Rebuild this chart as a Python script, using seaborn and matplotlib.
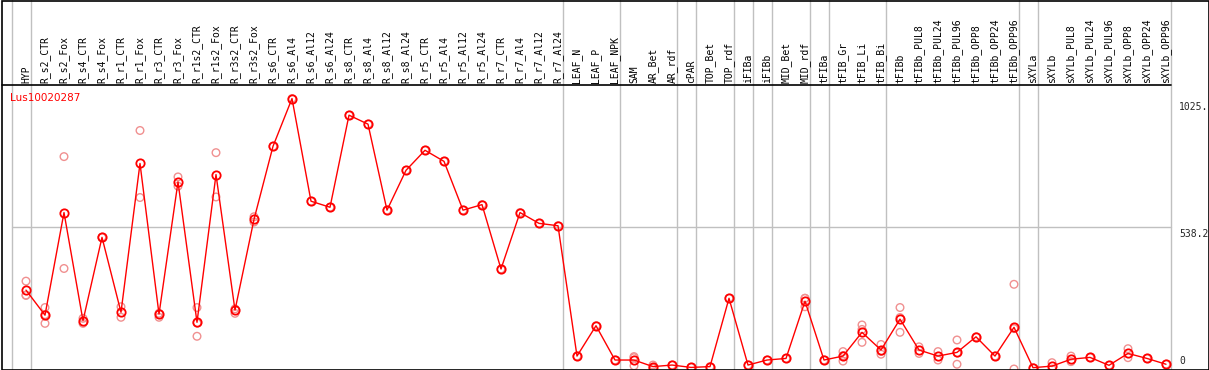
import matplotlib
matplotlib.use("Agg")
import matplotlib.pyplot as plt
import matplotlib.transforms as mtransforms
from matplotlib.patches import Rectangle
import pandas as pd
import seaborn as sns

# Sample names (column headers), left to right.
samples = [
    "HYP", "R_s2_CTR", "R_s2_Fox", "R_s4_CTR", "R_s4_Fox", "R_r1_CTR", "R_r1_Fox",
    "R_r3_CTR", "R_r3_Fox", "R_r1s2_CTR", "R_r1s2_Fox", "R_r3s2_CTR", "R_r3s2_Fox",
    "R_s6_CTR", "R_s6_Al4", "R_s6_Al12", "R_s6_Al24", "R_s8_CTR", "R_s8_Al4",
    "R_s8_Al12", "R_s8_Al24", "R_r5_CTR", "R_r5_Al4", "R_r5_Al12", "R_r5_Al24",
    "R_r7_CTR", "R_r7_Al4", "R_r7_Al12", "R_r7_Al24", "LEAF_N", "LEAF_P", "LEAF_NPK",
    "SAM", "AR_Bet", "AR_rdf", "cPAR", "TOP_Bet", "TOP_rdf", "iFIBa", "iFIBb",
    "MID_Bet", "MID_rdf", "tFIBa", "tFIB_Gr", "tFIB_Li", "tFIB_Bi", "tFIBb",
    "tFIBb_PUL8", "tFIBb_PUL24", "tFIBb_PUL96", "tFIBb_OPP8", "tFIBb_OPP24",
    "tFIBb_OPP96", "sXYLa", "sXYLb", "sXYLb_PUL8", "sXYLb_PUL24", "sXYLb_PUL96",
    "sXYLb_OPP8", "sXYLb_OPP24", "sXYLb_OPP96",
]

# Mean expression per sample.
means = [
    299, 204, 593, 183, 499, 215, 779, 208, 709, 177, 737, 223, 567,
    844, 1025, 636, 613, 962, 928, 602, 753, 829, 787, 602, 623,
    379, 593, 552, 543, 49, 164, 34,
    34, 9, 15, 6, 9, 268, 15, 34, 40, 257, 34, 49, 139, 72, 189,
    72, 49, 63, 122, 49, 158, 5, 11, 37, 44, 14, 59, 40, 18,
]

# Replicate values per sample.
replicates = [
    [333, 280, 279], [233, 173, 206], [805, 381], [192, 173], [499, 499],
    [236, 196], [904, 650], [211, 196], [728, 693], [233, 174, 124],
    [820, 652], [228, 211], [577, 557], [844], [1025], [636], [613], [962],
    [928], [602], [753], [829], [787], [602], [623], [379], [593], [552], [543],
    [49], [164], [34], [47, 43, 12], [15, 3], [15], [6], [9], [268], [15], [34],
    [40], [268, 236, 268], [34], [66, 30, 51], [167, 150, 101], [93, 56, 67],
    [233, 139, 195], [84, 59], [66, 34], [110, 18, 61], [122], [49],
    [321, 0, 153], [5], [24, 0], [49, 28], [44], [14], [77, 43], [40], [18],
]

gene = "Lus10020287"
ytick_values = [0, 538.2, 1025]
ytick_labels = ["0", "538.2", "1025."]
# Indices of the last sample of each group (separators drawn just after).
group_ends = [-1, 0, 28, 31, 34, 35, 37, 38, 39, 41, 42, 45, 52, 53, 60]

df_mean = pd.DataFrame({"pos": range(len(samples)), "value": means})
df_rep = pd.DataFrame(
    [(i, v) for i, vals in enumerate(replicates) for v in vals],
    columns=["pos", "value"],
)

sns.set_style("white")
plt.rcParams["font.family"] = ["DejaVu Sans Mono", "DejaVu Sans"]

W, H = 1209, 370
fig = plt.figure(figsize=(W / 100, H / 100), dpi=100)
ax_left, ax_right, ax_top, ax_bottom = 2, 1208, 85, 369
ax_h = ax_bottom - ax_top
ax = fig.add_axes([ax_left / W, (H - ax_bottom) / H,
                   (ax_right - ax_left) / W, ax_h / H])

x0 = (ax_left - 26) / 19
x1 = (ax_right - 26) / 19
ax.set_xlim(x0, x1)
ax.set_ylim(0, 1076.4)
for s in ax.spines.values():
    s.set_visible(False)
ax.set_xticks([])
ax.set_yticks([])

# Grey separators, running up through the header area.
grid_col = "#c0c0c0"
head = 1 + ax_top / ax_h
for g in group_ends:
    ax.axvline(g + 0.24, ymin=0, ymax=head, color=grid_col, lw=1, clip_on=False, zorder=0)
ax.plot([group_ends[0] + 0.24, group_ends[-1] + 0.24], [ytick_values[1]] * 2,
        color=grid_col, lw=1, zorder=0)

# Replicates (pale) then means (line + open circles).
sns.scatterplot(data=df_rep, x="pos", y="value", ax=ax, marker="o", s=30,
                facecolors="none", edgecolor="#f09090", linewidth=1.0,
                legend=False, zorder=2, clip_on=False)
sns.lineplot(data=df_mean, x="pos", y="value", ax=ax, color="#ff0000", lw=1,
             marker="o", markersize=6, markerfacecolor="none",
             markeredgecolor="#ff0000", markeredgewidth=1.3, zorder=3,
             clip_on=False)
ax.set(xlabel=None, ylabel=None)

# Column headers.
trans = mtransforms.blended_transform_factory(ax.transData, ax.transAxes)
for i, name in enumerate(samples):
    ax.text(i, 1 + 2 / ax_h, name, rotation=90, ha="center",
            va="bottom", fontsize=7, transform=trans, color="black")

# Header separator line (stops at the last group line).
ax.plot([x0, group_ends[-1] + 0.24], [1, 1], color="black", lw=1.2,
        transform=trans, clip_on=False)

# Y labels on the right.
tx = mtransforms.blended_transform_factory(ax.transAxes, ax.transData)
lx = (1179 - ax_left) / (ax_right - ax_left)
ax.text(lx, 1012, ytick_labels[2], ha="left", va="top", fontsize=7, transform=tx)
ax.text(lx, 532, ytick_labels[1], ha="left", va="top", fontsize=7, transform=tx)
ax.text(lx, 10, ytick_labels[0], ha="left", va="bottom", fontsize=7, transform=tx)

ax.text(0.0065, 0.955, gene, color="#ff0000", fontsize=7.5, ha="left", va="center",
        family="DejaVu Sans", transform=ax.transAxes)

# Outer frame.
fig.patches.append(Rectangle((1.5 / W, 0.5 / H), (W - 2) / W, (H - 1.5) / H,
                             fill=False, edgecolor="black", lw=1.2,
                             transform=fig.transFigure))

fig.savefig("out.png", dpi=100)
